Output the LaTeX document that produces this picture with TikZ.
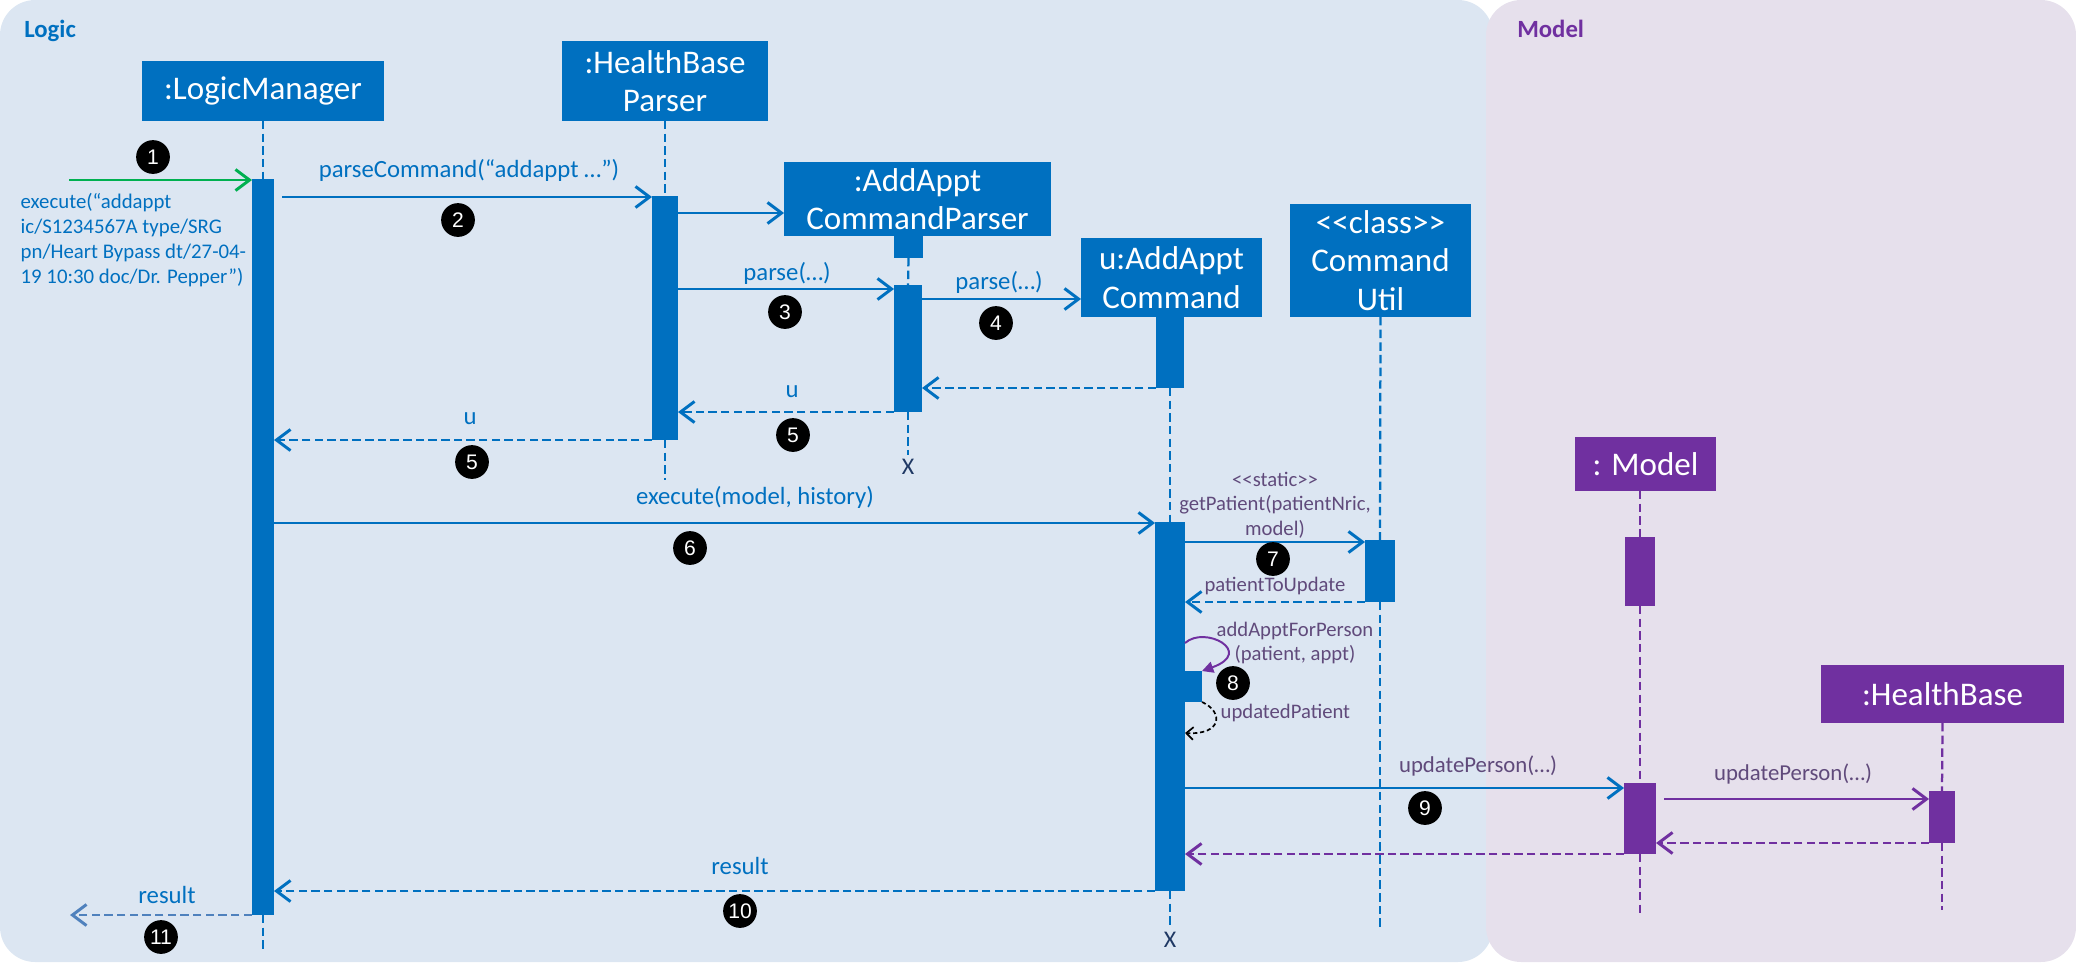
\documentclass[tikz,border=0pt]{standalone}
\usepackage{fontspec}
\setmainfont{Carlito}[Ligatures=TeXOff]
\newfontfamily\badgefont{Liberation Sans}
\usetikzlibrary{arrows.meta,fit}
\definecolor{seqblue}{RGB}{0,112,192}
\definecolor{mdlpurple}{RGB}{112,48,160}
\definecolor{txtpurple}{RGB}{96,74,123}
\definecolor{logicbg}{RGB}{220,230,242}
\definecolor{modelbg}{RGB}{230,224,236}
\definecolor{callgreen}{RGB}{0,176,80}
\definecolor{exitblue}{RGB}{79,129,189}
\definecolor{gonenavy}{RGB}{31,56,100}
\newcommand{\pxu}{0.025cm}

\begin{document}
\begin{tikzpicture}[x=0.025cm, y=-0.025cm,
	objbox/.style={fill=seqblue, text=white, inner sep=0pt, outer sep=0pt, align=center, font=\fontsize{23.5}{27.5}\selectfont},
	mdlbox/.style={objbox, fill=mdlpurple},
	actbar/.style={fill=seqblue, inner sep=0pt, outer sep=0pt},
	mdlbar/.style={actbar, fill=mdlpurple},
	life/.style={seqblue, line width=1.6pt, dash pattern=on 6pt off 3pt},
	mdllife/.style={life, mdlpurple},
	call/.style={seqblue, line width=2.1pt, -{Straight Barb[length=10pt,width=15pt]}},
	ret/.style={call, dash pattern=on 6pt off 3pt},
	msg/.style={seqblue, inner sep=1pt, font=\fontsize{17.6}{21}\selectfont},
	note/.style={txtpurple, inner sep=1pt, align=center, font=\fontsize{14.7}{17.4}\selectfont},
	badge/.style={circle, fill=black, text=white, inner sep=0pt, minimum size=24pt, font=\badgefont\fontsize{15}{15}\selectfont},
	gone/.style={gonenavy, inner sep=0pt, font=\fontsize{17}{17}\selectfont},
	panel/.style={font=\bfseries\fontsize{17.6}{20}\selectfont, anchor=base west, inner sep=0pt}]
	\useasboundingbox (0,0) rectangle (2076,962);
	\fill[logicbg, rounded corners=25pt] (0,0) rectangle (1493,962);
	\fill[modelbg, rounded corners=25pt] (1486,0) rectangle (2076,962);
	\node[panel, seqblue] (logiclab) at (24,37) {Logic};
	\node[panel, mdlpurple] (modellab) at (1517,37) {Model};

	\node[objbox, minimum width=242*\pxu, minimum height=60*\pxu] (lm) at (263,91) {:LogicManager};
	\node[objbox, minimum width=206*\pxu, minimum height=80*\pxu] (hbp) at (665,81) {:HealthBase\\Parser};
	\node[objbox, minimum width=267*\pxu, minimum height=74*\pxu] (acp) at (917.5,199) {:AddAppt\\CommandParser};
	\node[objbox, minimum width=181*\pxu, minimum height=79*\pxu] (aac) at (1171.5,277.5) {u:AddAppt\\Command};
	\node[objbox, minimum width=181*\pxu, minimum height=113*\pxu] (cu) at (1380.5,260.5) {<<class>>\\Command\\Util};
	\node[mdlbox, minimum width=141*\pxu, minimum height=54*\pxu] (mdl) at (1645.5,464) {: Model};
	\node[mdlbox, minimum width=243*\pxu, minimum height=58*\pxu] (hb) at (1942.5,694) {:HealthBase};

	\node[actbar, fit={(252,179) (274,915)}] (lmbar) {};
	\node[actbar, fit={(652,196) (678,440)}] (hbpbar) {};
	\node[actbar, fit={(894,236) (923,258)}] (acpstub) {};
	\node[actbar, fit={(894,285) (922,412)}] (acpbar) {};
	\node[actbar, fit={(1156,317) (1184,388)}] (aacstub) {};
	\node[actbar, fit={(1155,522) (1185,891)}] (aacbar) {};
	\node[actbar, fit={(1185,671) (1202,702)}] (aacsub) {};
	\node[actbar, fit={(1365,540) (1395,602)}] (cubar) {};
	\node[mdlbar, fit={(1625,537) (1655,606)}] (mdlbar1) {};
	\node[mdlbar, fit={(1624,783) (1656,854)}] (mdlbar2) {};
	\node[mdlbar, fit={(1929,791) (1955,843)}] (hbbar) {};

	\draw[life] (lm.south) -- (lmbar.north);
	\draw[life] (lmbar.south) -- (lmbar.south |- 0,952);
	\draw[life] (hbp.south) -- (hbpbar.north);
	\draw[life] (hbpbar.south) -- (hbpbar.south |- 0,480);
	\draw[life] (acpstub.south) -- (acpbar.north);
	\draw[life] (acpbar.south) -- (acpbar.south |- 0,455);
	\node[gone] (acpx) at (908,467) {X};
	\draw[life] (aacstub.south) -- (aacbar.north);
	\draw[life] (aacbar.south) -- (aacbar.south |- 0,926);
	\node[gone] (aacx) at (1170,940) {X};
	\draw[life] (cu.south) -- (cubar.north);
	\draw[life] (cubar.south) -- (cubar.south |- 0,929);
	\draw[mdllife] (mdlbar1.north |- mdl.south) -- (mdlbar1.north);
	\draw[mdllife] (mdlbar1.south) -- (mdlbar2.north);
	\draw[mdllife] (mdlbar2.south) -- (mdlbar2.south |- 0,916);
	\draw[mdllife] (hb.south) -- (hbbar.north);
	\draw[mdllife] (hbbar.south) -- (hbbar.south |- 0,910);

	\coordinate (entry) at (69,180);
	\draw[call, callgreen] (entry) -- (lmbar.west |- entry);
	\node[msg, anchor=west, align=left, font=\fontsize{14.8}{17.8}\selectfont] (execlab) at (19,240) {execute(“addappt\\ic/S1234567A type/SRG\\pn/Heart Bypass dt/27-04-\\19 10:30 doc/Dr. Pepper”)};
	\node[badge] (b1) at (153,157) {1};

	\draw[call, shorten <=6pt] (lmbar.east |- 0,197) -- (hbpbar.west |- 0,197);
	\node[msg] (parsecmd) at (469,170) {parseCommand(“addappt …”)};
	\node[badge] (b2) at (458,220) {2};

	\draw[call] (hbpbar.east |- 0,213) -- (acp.west |- 0,213);

	\draw[call] (hbpbar.east |- 0,289) -- (acpbar.west |- 0,289);
	\node[msg] (parse1) at (787,273) {parse(…)};
	\node[badge] (b3) at (785,312) {3};

	\draw[call] (acpbar.east |- 0,299) -- (aac.west |- 0,299);
	\node[msg] (parse2) at (999,282) {parse(…)};
	\node[badge] (b4) at (996,323) {4};

	\draw[ret] (aacstub.south west) -- (acpbar.east |- aacstub.south);
	\draw[ret] (acpbar.south west) -- (hbpbar.east |- acpbar.south);
	\node[msg] (u1) at (792,392) {u};
	\node[badge] (b5a) at (793,435) {5};
	\draw[ret] (hbpbar.south west) -- (lmbar.east |- hbpbar.south);
	\node[msg] (u2) at (470,419) {u};
	\node[badge] (b5b) at (472,462) {5};

	\draw[call] (lmbar.east |- 0,523) -- (aacbar.west |- 0,523);
	\node[msg] (execmdl) at (755,497) {execute(model, history)};
	\node[badge] (b6) at (690,548) {6};

	\draw[call] (aacbar.east |- 0,542) -- (cubar.west |- 0,542);
	\node[note] (getpat) at (1275,505) {<<static>>\\getPatient(patientNric,\\model)};
	\node[badge] (b7) at (1273,559) {7};
	\draw[ret] (cubar.south west) -- (aacbar.east |- cubar.south);
	\node[note] (pattoupd) at (1275,586) {patientToUpdate};

	\draw[mdlpurple, line width=1.4pt, -{Triangle[length=8pt,width=8pt]}] (aacbar.east |- 0,643) .. controls (1205,625) and (1255,652) .. (aacsub.north east);
	\node[note] (addappt) at (1295,643) {addApptForPerson\\(patient, appt)};
	\node[badge] (b8) at (1233,683) {8};
	\draw[black, line width=1.2pt, dash pattern=on 3pt off 2pt, -{Straight Barb[length=5pt,width=9pt]}] (aacsub.south east) .. controls (1224,712) and (1222,735) .. (aacbar.east |- 0,733);
	\node[note, anchor=west] (updpat) at (1219,713) {updatedPatient};

	\draw[call] (aacbar.east |- 0,788) -- (mdlbar2.west |- 0,788);
	\node[note, font=\fontsize{16.2}{19}\selectfont] (updper1) at (1478,766) {updatePerson(…)};
	\node[badge] (b9) at (1425,808) {9};
	\draw[call, mdlpurple, shorten <=6pt] (mdlbar2.east |- 0,799) -- (hbbar.west |- 0,799);
	\node[note, font=\fontsize{16.2}{19}\selectfont] (updper2) at (1793,774) {updatePerson(…)};
	\draw[ret, mdlpurple] (hbbar.south west) -- (mdlbar2.east |- hbbar.south);
	\draw[ret, mdlpurple] (mdlbar2.south west) -- (aacbar.east |- mdlbar2.south);

	\draw[ret] (aacbar.south west) -- (lmbar.east |- aacbar.south);
	\node[msg] (res1) at (740,866) {result};
	\node[badge] (b10) at (740,911) {10};

	\coordinate (exit) at (70,915);
	\draw[ret, exitblue] (lmbar.south west) -- (exit);
	\node[msg] (res2) at (167,895) {result};
	\node[badge] (b11) at (161,937) {11};
\end{tikzpicture}
\end{document}
